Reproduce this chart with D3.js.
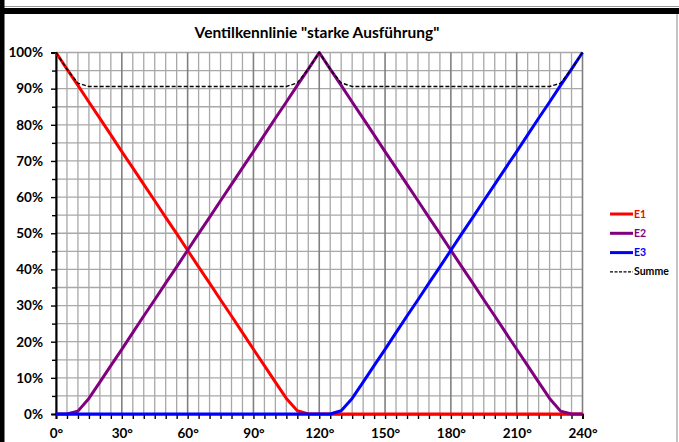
<!DOCTYPE html>
<html>
<head>
<meta charset="utf-8">
<script src="https://cdn.jsdelivr.net/npm/d3@7"></script>
<style>
html,body{margin:0;padding:0;background:#fff;}
svg{display:block;}
text{font-family:Lato,"Open Sans",sans-serif;font-weight:bold;}
</style>
</head>
<body>
<svg id="chart" width="679" height="442"></svg>
<script>
const title = 'Ventilkennlinie "starke Ausführung"';
const angles = [0,5,10,15,20,25,30,35,40,45,50,55,60,65,70,75,80,85,90,95,100,105,110,115,120,
  125,130,135,140,145,150,155,160,165,170,175,180,185,190,195,200,205,210,215,220,225,230,235,240];
const E1 = [100,95.4,90.9,86.3,81.8,77.2,72.6,68.1,63.5,59.0,54.4,49.9,45.3,40.7,36.2,31.6,27.1,22.5,17.9,13.4,8.8,4.3,0.9,0,0,
  0,0,0,0,0,0,0,0,0,0,0,0,0,0,0,0,0,0,0,0,0,0,0,0];
const E2 = [0,0,0.8,4.3,8.8,13.4,17.9,22.5,27.1,31.6,36.2,40.7,45.3,49.9,54.4,59.0,63.5,68.1,72.6,77.2,81.8,86.3,90.9,95.4,100,
  95.4,90.9,86.3,81.8,77.2,72.6,68.1,63.5,59.0,54.4,49.9,45.3,40.7,36.2,31.6,27.1,22.5,17.9,13.4,8.8,4.3,0.8,0,0];
const E3 = [0,0,0,0,0,0,0,0,0,0,0,0,0,0,0,0,0,0,0,0,0,0,0,0,0,
  0,0.9,4.3,8.8,13.4,17.9,22.5,27.1,31.6,36.2,40.7,45.3,49.9,54.4,59.0,63.5,68.1,72.6,77.2,81.8,86.3,90.9,95.4,100];
const Summe = [100,95.4,91.5,90.6,90.6,90.6,90.6,90.6,90.6,90.6,90.6,90.6,90.6,90.6,90.6,90.6,90.6,90.6,90.6,90.6,90.6,90.6,91.6,95.4,100,
  95.4,91.6,90.6,90.6,90.6,90.6,90.6,90.6,90.6,90.6,90.6,90.6,90.6,90.6,90.6,90.6,90.6,90.6,90.6,90.6,90.6,91.5,95.4,100];
const xTicks = [0,30,60,90,120,150,180,210,240];
const yTicks = [0,10,20,30,40,50,60,70,80,90,100];
const seriesNames = ["E1","E2","E3","Summe"];
const seriesColors = ["#ff0000","#800080","#0000ff","#000000"];

const svg = d3.select("#chart");
const W = 679, H = 442;
const plot = {l:56, r:582.5, t:52.5, b:414};

// frame decorations
svg.append("rect").attr("x",0).attr("y",0).attr("width",W).attr("height",H).attr("fill","#fff");
svg.append("line").attr("x1",0).attr("x2",W).attr("y1",6.5).attr("y2",6.5).attr("stroke","#9a9a9a").attr("stroke-width",1);
svg.append("rect").attr("x",0).attr("y",8).attr("width",W).attr("height",6).attr("fill","#000");
svg.append("rect").attr("x",0).attr("y",0).attr("width",4.5).attr("height",H).attr("fill","#000");
svg.append("line").attr("x1",677).attr("x2",677).attr("y1",14).attr("y2",H).attr("stroke","#8a8a8a").attr("stroke-width",1);

const x = d3.scaleLinear().domain([0,240]).range([plot.l, plot.r]);
const y = d3.scaleLinear().domain([0,100]).range([plot.b, plot.t]);

// grid
const g = svg.append("g");
const minorX = d3.range(0,241,5), minorY = d3.range(0,101,5);
g.selectAll("line.hy").data(minorY).join("line")
  .attr("x1",plot.l).attr("x2",plot.r).attr("y1",d=>y(d)).attr("y2",d=>y(d))
  .attr("stroke","#a8a8a8").attr("stroke-width",1.3);
g.selectAll("line.vx").data(minorX).join("line")
  .attr("y1",plot.t).attr("y2",plot.b).attr("x1",d=>x(d)).attr("x2",d=>x(d))
  .attr("stroke",d=>d%30===0?"#808080":"#a8a8a8").attr("stroke-width",d=>d%30===0?1.6:1.3);

// axes
const yAxis = svg.append("g").attr("transform",`translate(${plot.l},0)`)
  .call(d3.axisLeft(y).tickValues(yTicks).tickFormat(d=>d+"%").tickSize(5).tickPadding(8));
const yMinor = svg.append("g").attr("transform",`translate(${plot.l},0)`)
  .call(d3.axisLeft(y).tickValues(d3.range(5,100,10)).tickFormat("").tickSize(4));
const xAxis = svg.append("g").attr("transform",`translate(0,${plot.b})`)
  .call(d3.axisBottom(x).tickValues(xTicks).tickFormat(d=>d+"°").tickSize(5).tickPadding(9));
const xMinor = svg.append("g").attr("transform",`translate(0,${plot.b})`)
  .call(d3.axisBottom(x).tickValues(minorX.filter(d=>d%30!==0)).tickFormat("").tickSize(5));
[yAxis,yMinor,xAxis,xMinor].forEach(a=>{
  a.select(".domain").attr("stroke","#000").attr("stroke-width",1.6);
  a.selectAll(".tick line").attr("stroke","#000").attr("stroke-width",1.4);
  a.selectAll("text").attr("font-size",13.5).attr("fill","#000")
    .attr("font-family","Lato, 'Open Sans', sans-serif").attr("font-weight","900");
});

// series
const data = [E1,E2,E3,Summe];
const line = d3.line().x((d,i)=>x(angles[i])).y(d=>y(d)).curve(d3.curveLinear);
data.forEach((s,k)=>{
  svg.append("path").datum(s).attr("d",line).attr("fill","none")
    .attr("stroke",seriesColors[k])
    .attr("stroke-width",k===3?1.4:3)
    .attr("stroke-dasharray",k===3?"4,2":null)
    .attr("stroke-linejoin","round");
});

// title
svg.append("text").attr("x",317).attr("y",38).attr("text-anchor","middle")
  .attr("font-size",15.5).attr("font-weight","900").attr("fill","#000").text(title);

// legend
const lg = svg.append("g");
seriesNames.forEach((n,k)=>{
  const yy = 214 + k*19.3;
  lg.append("line").attr("x1",610).attr("x2",633).attr("y1",yy).attr("y2",yy)
    .attr("stroke",seriesColors[k]).attr("stroke-width",k===3?1.4:3)
    .attr("stroke-dasharray",k===3?"3,1.5":null);
  lg.append("text").attr("x",634).attr("y",yy+3.5).attr("font-size",10.5)
    .attr("fill",seriesColors[k]).text(n);
});
</script>
</body>
</html>
